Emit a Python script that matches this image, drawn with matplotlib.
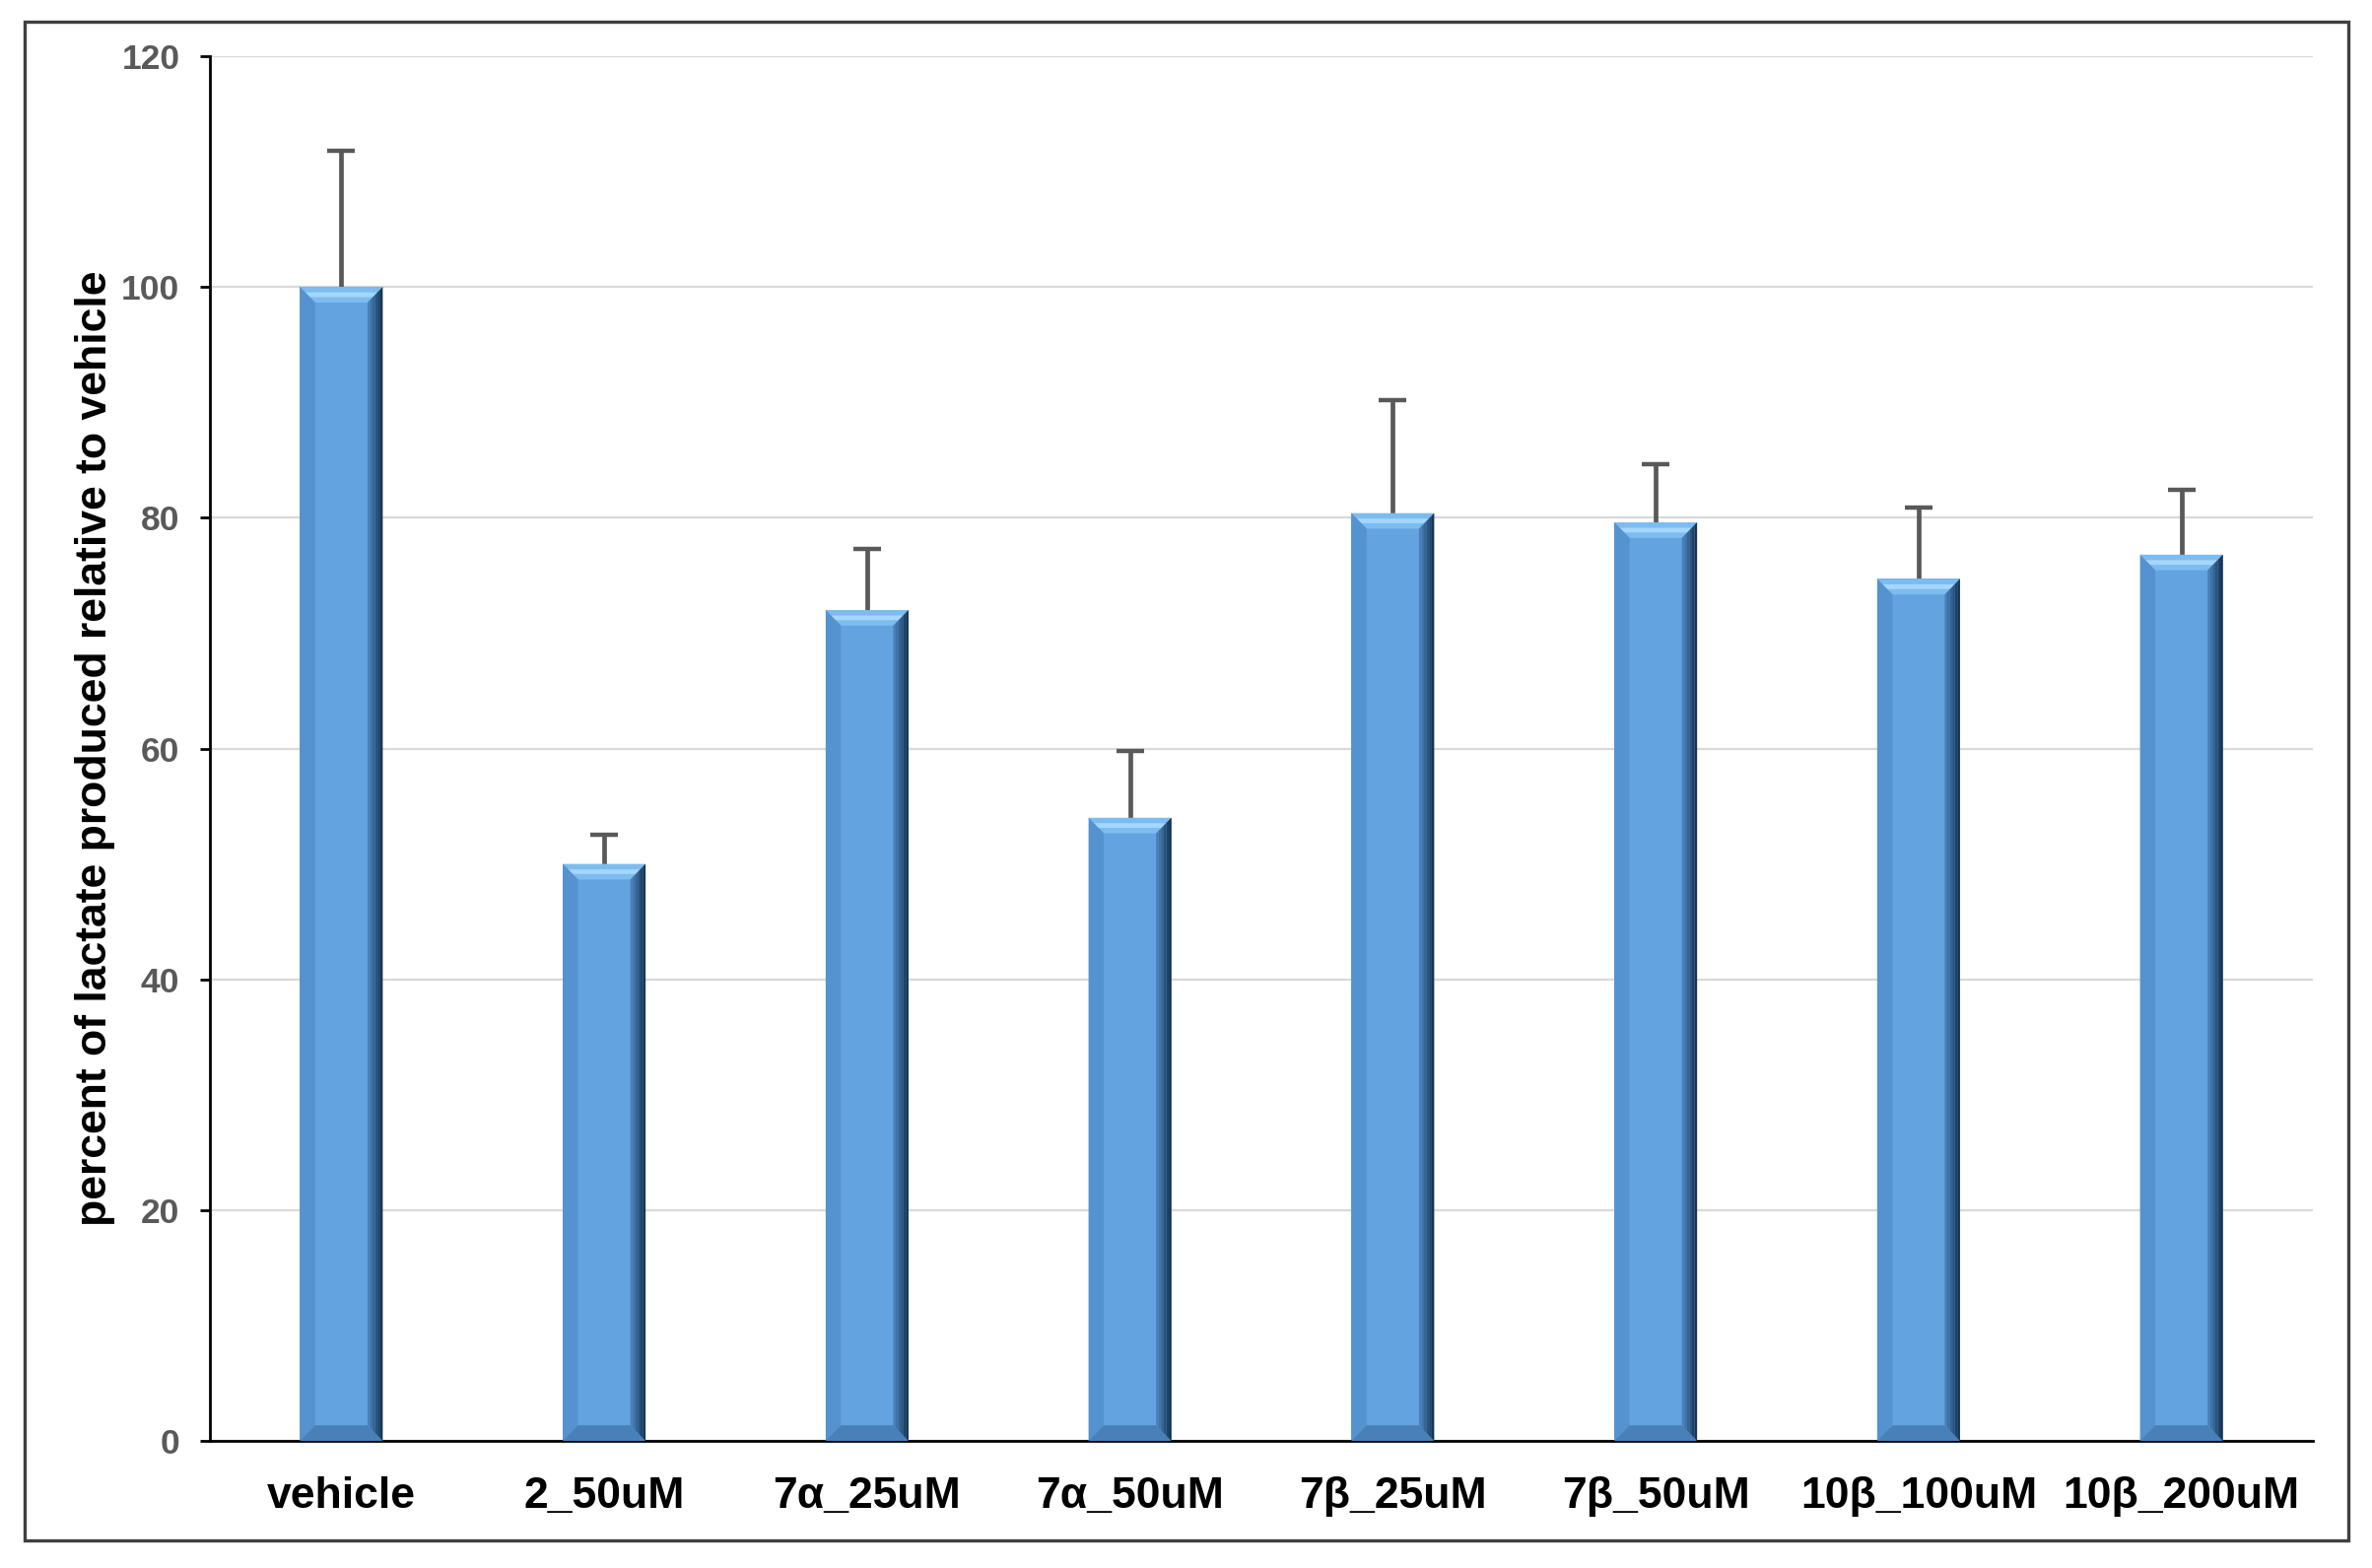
import numpy as np
import matplotlib
matplotlib.use('Agg')
import matplotlib.pyplot as plt
from matplotlib.patches import Polygon, Rectangle

# dati
gruppi = ['vehicle', '2_50uM', '7\u03b1_25uM', '7\u03b1_50uM', '7\u03b2_25uM', '7\u03b2_50uM', '10\u03b2_100uM', '10\u03b2_200uM']
valori = [100.0, 50.0, 72.0, 54.0, 80.4, 79.6, 74.7, 76.8]
errori = [11.8, 2.5, 5.3, 5.8, 9.8, 5.0, 6.2, 5.6]
tick_y = [0, 20, 40, 60, 80, 100, 120]

plt.rcParams['font.family'] = ['Liberation Sans', 'DejaVu Sans']
plt.rcParams['font.weight'] = 'bold'

fig = plt.figure(figsize=(24.07, 15.91), dpi=100)
ax = fig.add_axes([213/2407, 1-1462/1591, (2347-213)/2407, (1462-57)/1591])

x = np.arange(len(gruppi))
larg = 0.315
colore = '#62a3e0'

ax.set_axisbelow(True)
ax.yaxis.grid(True, color='#d9d9d9', lw=1.6, zorder=0)
ax.bar(x, valori, width=larg, color=colore, edgecolor='none', zorder=2)

# effetto bisello sulle barre
bx = 0.058  # in unita x
by = 1.35   # in unita y
for xi, h in zip(x, valori):
    l, r = xi - larg/2, xi + larg/2
    # bisello alto chiaro
    ax.add_patch(Polygon([(l, h), (r, h), (r - bx, h - by), (l + bx, h - by)], closed=True,
                         facecolor='#7dbcf0', edgecolor='none', zorder=3))
    ax.add_patch(Polygon([(l + bx*0.35, h - by*0.35), (r - bx*0.35, h - by*0.35), (r - bx*0.65, h - by*0.65), (l + bx*0.65, h - by*0.65)],
                         closed=True, facecolor='#a3d8fc', edgecolor='none', zorder=3))
    # bisello sinistro
    ax.add_patch(Polygon([(l, h), (l + bx, h - by), (l + bx, by), (l, 0)], closed=True,
                         facecolor='#5592d0', edgecolor='none', zorder=3))
    # bisello basso
    ax.add_patch(Polygon([(l, 0), (r, 0), (r - bx, by), (l + bx, by)], closed=True,
                         facecolor='#4a80b8', edgecolor='none', zorder=3))
    # bisello destro con sfumatura
    sfum = ['#4a80b8', '#3f72a6', '#346392', '#2a537d', '#204366', '#183450']
    n = len(sfum)
    for k, c in enumerate(sfum):
        x0 = r - bx + bx*k/n
        x1 = r - bx + bx*(k+1)/n
        f0 = 1 - k/n
        f1 = 1 - (k+1)/n
        ax.add_patch(Polygon([(x0, h - by*f0), (x1, h - by*f1), (x1, by*f1), (x0, by*f0)], closed=True,
                             facecolor=c, edgecolor='none', zorder=3))

eb = ax.errorbar(x, valori, yerr=[np.zeros(len(errori)), errori], fmt='none', ecolor='#595959',
                 elinewidth=3.4, capsize=10, capthick=3.2, zorder=1.5)
eb[1][0].set_visible(False)  # niente cappuccio in basso

ax.set_xlim(-0.5, len(gruppi) - 0.5)
ax.set_ylim(0, 120)
ax.set_yticks(tick_y)
ax.set_xticks(x)
ax.set_xticklabels(gruppi, fontsize=32, fontweight='bold', color='black')
ax.tick_params(axis='x', length=0, pad=26)
ax.tick_params(axis='y', length=7, width=2, pad=15, labelsize=25.5, labelcolor='#595959', color='black')
for t in ax.get_yticklabels():
    t.set_fontweight('bold')

ax.spines['top'].set_visible(False)
ax.spines['right'].set_visible(False)
ax.spines['left'].set_linewidth(2)
ax.spines['bottom'].set_linewidth(2)

ax.set_ylabel('percent of lactate produced relative to vehicle', fontsize=32, fontweight='bold', color='black')
ax.yaxis.set_label_coords(-0.045, 0.5)

# cornice esterna
fig.patches.append(Rectangle((25/2407, 1-1563/1591), (2383-25)/2407, (1563-22)/1591,
                             transform=fig.transFigure, fill=False, edgecolor='#404040', lw=2.4))

fig.savefig('out.png', dpi=100)
